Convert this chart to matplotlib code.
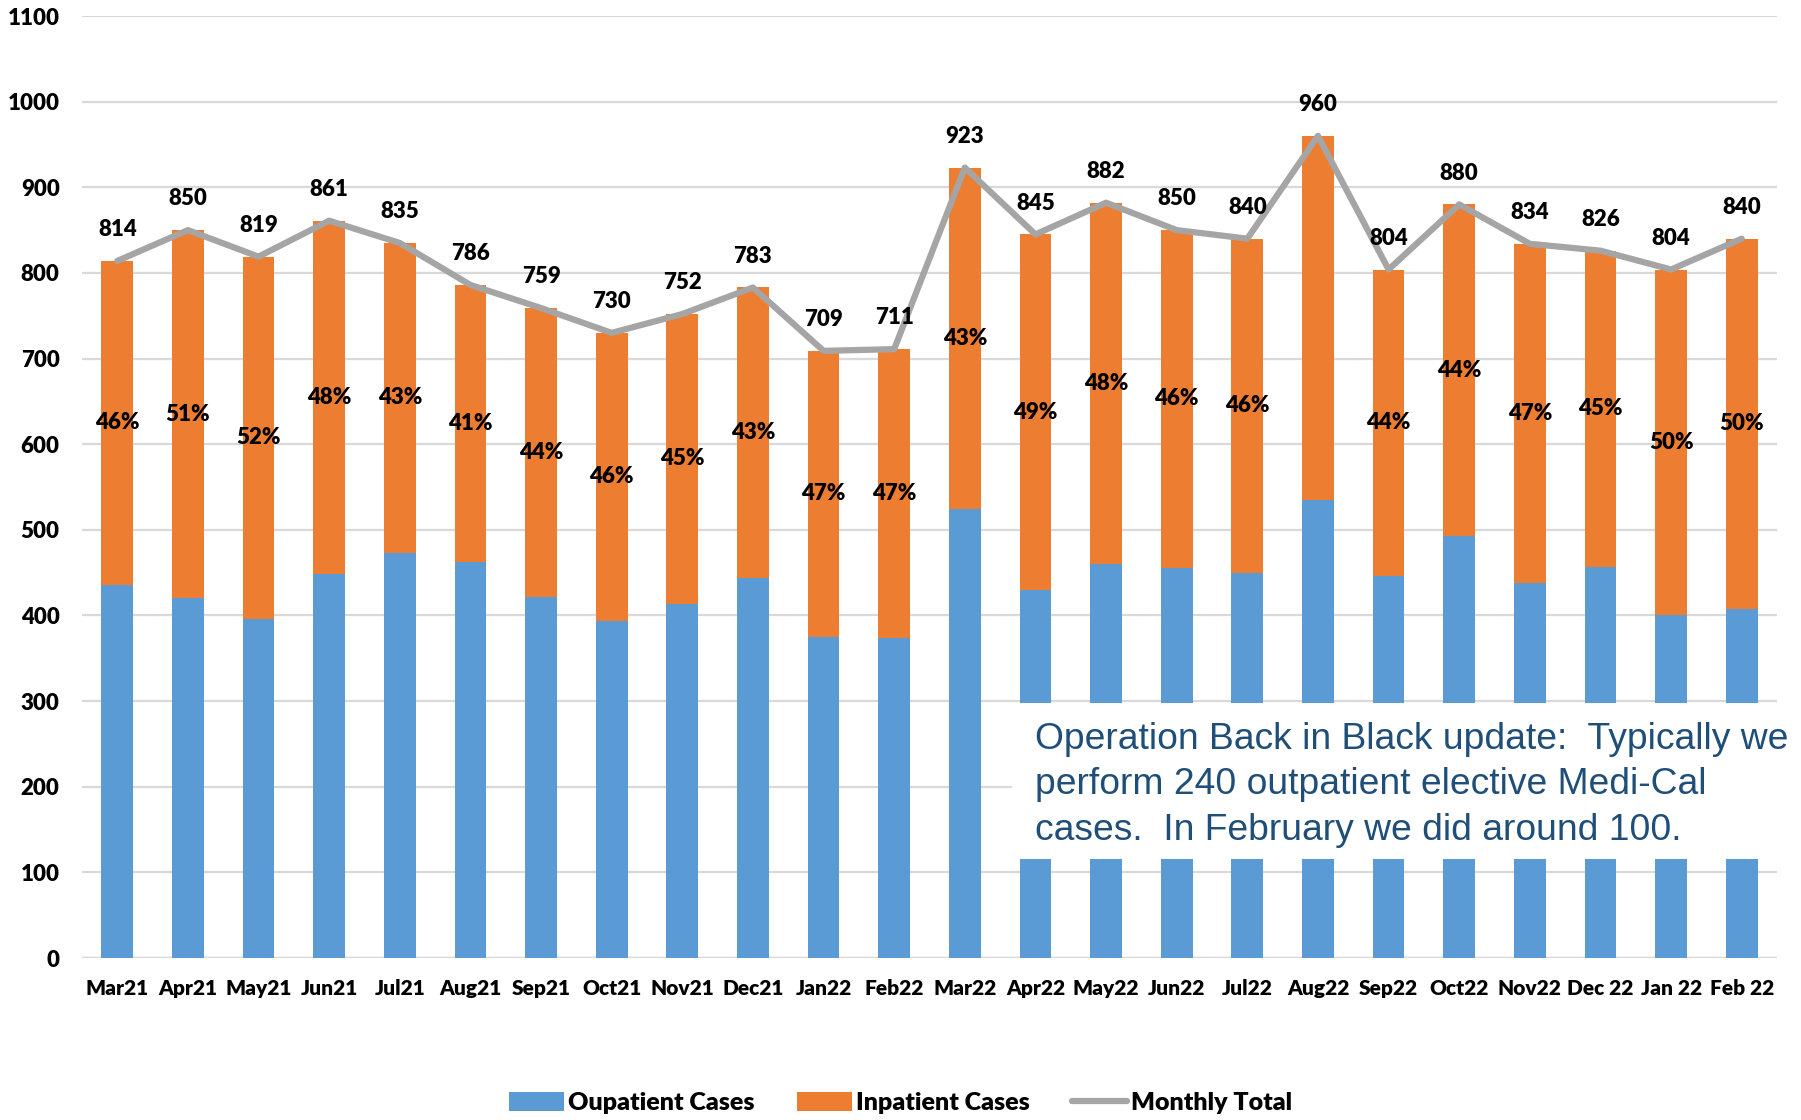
import matplotlib
matplotlib.use("Agg")
import matplotlib.pyplot as plt
from matplotlib.patches import Rectangle
import numpy as np

months = ["Mar21", "Apr21", "May21", "Jun21", "Jul21", "Aug21", "Sep21", "Oct21",
          "Nov21", "Dec21", "Jan22", "Feb22", "Mar22", "Apr22", "May22", "Jun22",
          "Jul22", "Aug22", "Sep22", "Oct22", "Nov22", "Dec 22", "Jan 22", "Feb 22"]
totals = [814, 850, 819, 861, 835, 786, 759, 730, 752, 783, 709, 711,
          923, 845, 882, 850, 840, 960, 804, 880, 834, 826, 804, 840]
outpatient = [436, 420, 396, 449, 473, 462, 422, 394, 414, 444, 375, 374,
              524, 430, 460, 456, 450, 535, 446, 493, 438, 457, 400, 408]
inpatient = [t - o for t, o in zip(totals, outpatient)]
inpatient_pct = ["46%", "51%", "52%", "48%", "43%", "41%", "44%", "46%", "45%", "43%", "47%", "47%",
                 "43%", "49%", "48%", "46%", "46%", "", "44%", "44%", "47%", "45%", "50%", "50%"]
yticks = [0, 100, 200, 300, 400, 500, 600, 700, 800, 900, 1000, 1100]
note = ("Operation Back in Black update:  Typically we\n"
        "perform 240 outpatient elective Medi-Cal\n"
        "cases.  In February we did around 100.")

BLUE = "#5B9BD5"
ORANGE = "#ED7D31"
GREY = "#A5A5A5"

plt.rcParams['font.family'] = ['Lato', 'DejaVu Sans']
WT = 'heavy'

fig = plt.figure(figsize=(18.01, 11.2), dpi=100)
ax = fig.add_axes([0.0455, 0.1446, 0.9412, 0.8411])

x = np.arange(len(months))
w = 0.45
b1 = ax.bar(x, outpatient, w, color=BLUE, label="Oupatient Cases", zorder=2)
b2 = ax.bar(x, inpatient, w, bottom=outpatient, color=ORANGE, label="Inpatient Cases", zorder=2)
ln, = ax.plot(x, totals, color=GREY, lw=4.5, label="Monthly Total", zorder=3, solid_capstyle='round')

for xi, o, i, p in zip(x, outpatient, inpatient, inpatient_pct):
    if p:
        ax.text(xi, o + i / 2, p, ha='center', va='center', fontsize=16, fontweight=WT, zorder=4)
for xi, t in zip(x, totals):
    ax.annotate(str(t), (xi, t), xytext=(0, 15), textcoords='offset points',
                ha='center', va='bottom', fontsize=16, fontweight=WT, zorder=4)

ax.set_xlim(-0.5, len(months) - 0.5)
ax.set_ylim(0, 1100)
ax.set_yticks(yticks)
ax.set_yticklabels([str(v) for v in yticks], fontsize=16, fontweight=WT)
ax.set_xticks(x)
ax.set_xticklabels(months, fontsize=15, fontweight=WT)
ax.tick_params(axis='both', length=0)
ax.tick_params(axis='x', pad=15)
ax.tick_params(axis='y', pad=16)
ax.yaxis.grid(True, color="#D9D9D9", lw=1.6, zorder=0)
ax.set_axisbelow(True)
for s in ax.spines.values():
    s.set_visible(False)
ax.axhline(0, color="#D9D9D9", lw=2.5, zorder=1)

# white note box
rect = Rectangle((1012 / 1801, 1 - 859 / 1120), 1 - 1012 / 1801, (859 - 703) / 1120,
                 transform=fig.transFigure, facecolor='white', edgecolor='none', zorder=10)
fig.patches.append(rect)
fig.text(1035 / 1801, 1 - 785 / 1120, note, fontsize=26.8, color="#1F4E79",
         family=['Liberation Sans', 'DejaVu Sans'], ha='left', va='center',
         linespacing=1.38, zorder=11)

fig.legend(handles=[b1, b2, ln], loc='center', bbox_to_anchor=(0.5, 1 - 1103 / 1120),
           ncol=3, frameon=False, prop={'size': 18, 'weight': WT},
           handlelength=2.2, handleheight=0.8, columnspacing=1.7, handletextpad=0.15)

fig.savefig("out.png", dpi=100)
